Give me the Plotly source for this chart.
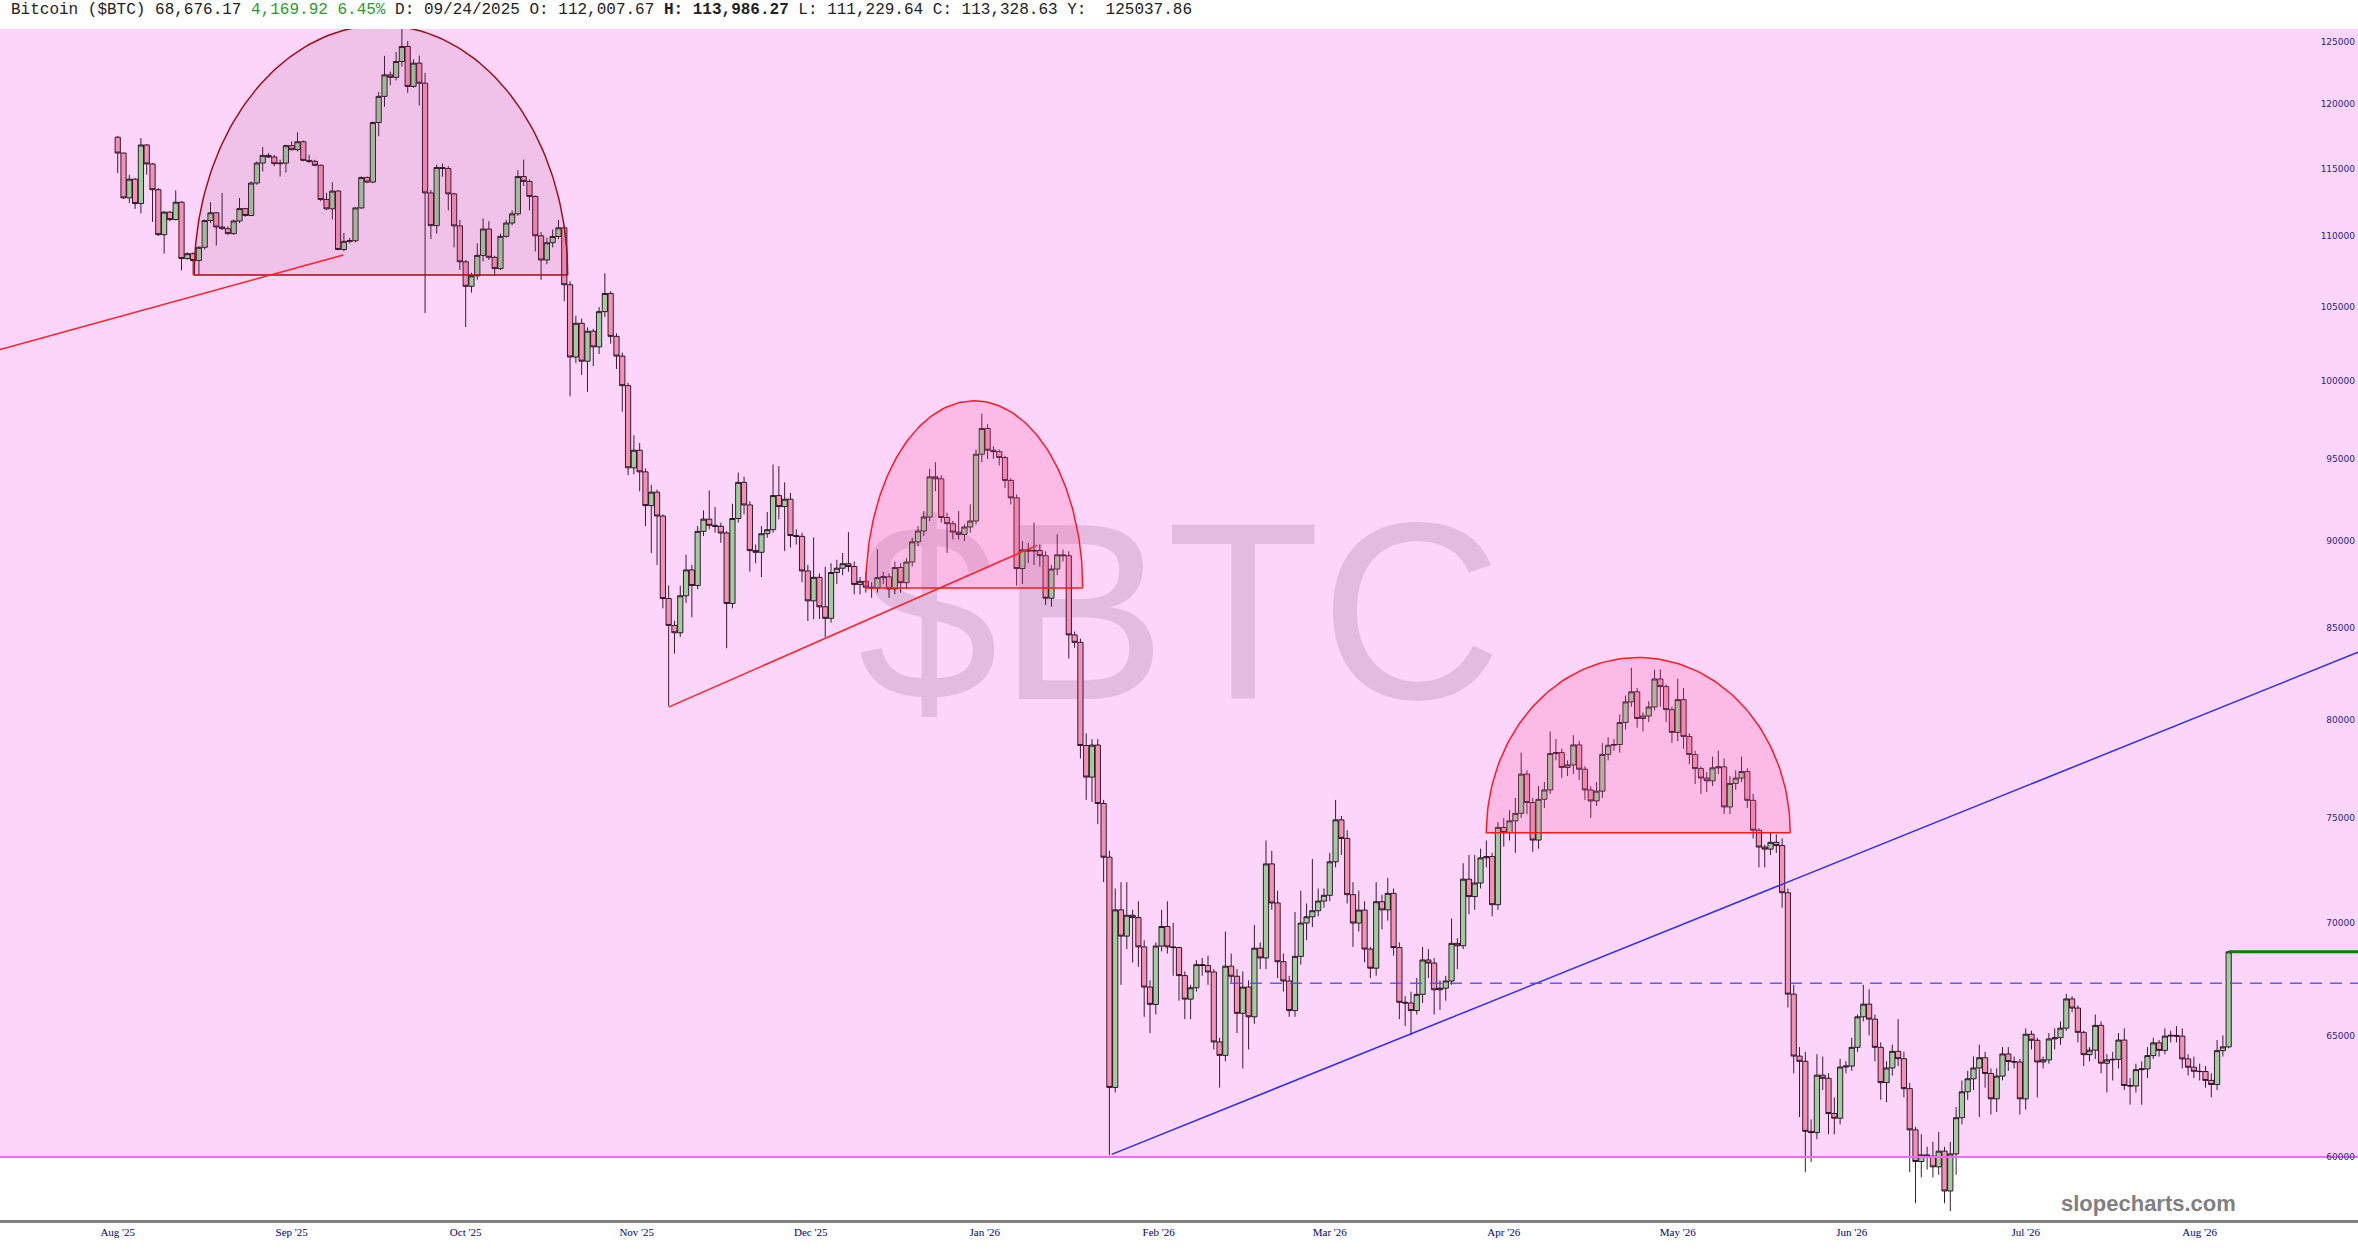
import math
import plotly.graph_objects as go

# ---------------- data (prices in thousands of USD) ----------------
opens = [117.42,116.20,112.82,114.22,112.40,116.82,115.37,113.43,110.12,111.77,111.22,112.50,108.40,108.75,108.26,109.21,111.15,111.72,110.68,110.56,
110.20,111.12,112.03,111.52,113.93,115.44,116.02,115.90,115.39,115.43,116.77,116.46,117.07,115.64,115.57,115.27,112.70,112.01,113.33,109.05,
109.64,109.68,112.08,114.35,114.00,118.56,120.62,122.34,122.14,123.42,124.65,121.41,123.29,121.67,113.19,110.78,115.10,115.02,113.12,110.76,
108.17,106.44,107.18,108.63,110.53,108.49,107.69,110.00,110.97,111.64,114.42,114.05,112.93,110.04,108.30,109.54,109.99,110.62,106.55,101.60,
103.88,101.32,103.34,102.28,104.68,105.94,102.99,101.66,99.70,94.45,95.55,94.20,92.13,92.95,91.50,86.66,85.14,84.73,86.82,88.31,
87.41,90.58,91.31,90.94,90.88,90.48,86.38,91.35,93.55,92.17,89.44,89.34,90.44,90.68,92.74,92.07,92.52,90.33,90.28,88.25,
86.53,87.88,86.19,85.54,88.16,88.41,88.67,88.51,87.47,87.65,87.31,87.27,87.86,87.91,87.21,88.45,87.57,88.77,89.96,90.60,
91.44,93.89,93.77,91.41,91.04,90.54,90.40,90.84,91.20,95.30,96.93,95.55,95.46,95.09,93.67,92.60,88.39,89.48,89.42,89.44,
89.14,86.68,88.36,89.19,89.14,84.61,84.20,78.67,77.05,78.69,75.72,73.09,62.81,70.60,69.39,70.35,70.24,68.90,67.10,66.34,
68.94,69.83,68.90,68.87,67.61,66.57,67.07,68.10,68.06,67.77,64.72,64.15,68.03,67.58,65.95,67.10,65.80,68.84,68.40,72.77,
70.92,68.23,67.37,66.07,68.47,69.99,70.28,70.56,71.01,71.28,72.87,74.91,74.00,71.31,69.99,70.59,68.80,67.94,70.98,70.60,
71.37,68.87,66.43,66.40,66.07,66.78,68.31,68.17,66.98,67.05,67.37,69.06,68.95,72.04,71.22,71.86,73.06,73.12,70.84,74.54,
74.29,74.86,75.23,77.20,75.77,73.92,75.93,76.40,78.25,78.30,77.54,77.67,78.70,77.45,76.40,75.85,76.34,78.21,78.68,78.72,
79.87,80.96,81.50,80.08,80.21,80.69,82.19,81.78,80.55,79.35,81.08,79.14,78.20,77.48,77.00,76.86,77.52,77.57,75.55,76.73,
77.00,77.33,75.88,74.40,73.58,73.48,73.81,73.65,71.40,66.79,64.12,63.90,61.02,60.97,63.32,63.19,61.74,61.55,63.66,63.70,
64.49,65.80,66.35,65.70,64.49,63.01,63.62,64.32,64.01,62.76,61.08,59.82,60.08,60.03,59.61,60.23,58.67,60.12,61.57,62.63,
63.17,63.62,64.05,63.39,62.34,63.28,64.21,63.89,63.87,62.34,65.05,64.79,63.87,63.96,64.85,64.90,65.31,66.58,66.18,65.13,
64.18,64.37,65.43,63.82,63.96,63.98,64.80,62.89,62.87,63.55,63.58,64.14,64.68,64.36,64.97,65.00,64.97,64.00,63.65,63.48,
63.47,63.10,62.93,64.35,64.51]
highs = [117.52,116.23,114.55,114.30,117.35,116.89,115.44,113.55,111.84,111.84,113.38,112.57,108.85,108.85,109.28,111.22,112.50,111.77,113.19,110.73,
111.22,112.82,112.08,114.05,115.57,116.66,116.20,116.07,115.69,116.84,117.09,117.79,117.17,116.07,115.69,115.32,113.19,113.99,113.38,110.24,
109.88,112.10,114.42,114.42,118.65,120.97,123.88,122.60,124.20,126.09,125.10,123.60,123.90,122.50,113.40,115.30,115.40,115.20,113.20,111.20,
108.30,107.40,109.50,111.30,111.10,108.60,110.20,111.20,111.90,114.90,115.70,114.20,113.00,110.30,109.90,110.50,111.20,110.80,106.80,104.40,
104.20,103.60,103.50,105.00,107.36,106.10,103.20,101.90,99.90,96.50,96.00,94.40,93.40,93.10,91.60,87.41,85.40,87.40,89.20,88.60,
90.90,91.84,93.05,92.04,91.10,90.60,92.24,94.16,93.90,92.40,89.80,90.90,91.74,94.66,94.56,93.55,92.90,90.70,90.50,88.60,
90.22,88.10,88.50,88.70,88.90,89.30,90.53,88.80,87.90,88.20,87.60,89.52,88.20,88.10,88.80,88.70,89.00,90.20,90.90,91.80,
94.40,94.80,94.00,91.70,91.20,91.80,91.00,92.20,95.60,97.87,97.20,95.80,95.60,95.20,93.80,92.80,90.00,89.90,91.10,89.80,
89.40,88.60,90.40,89.50,89.40,84.80,84.40,79.30,79.00,79.00,75.90,73.40,71.60,71.90,71.90,70.60,71.00,69.20,67.40,69.10,
70.60,71.00,70.00,68.90,67.80,67.20,68.30,68.40,68.50,67.90,64.90,69.60,68.60,67.90,67.80,67.40,69.90,69.10,73.90,73.40,
71.50,68.60,67.60,70.50,71.50,70.90,73.00,71.60,71.60,73.30,75.90,75.10,74.40,71.90,71.50,71.00,68.90,71.90,71.30,72.10,
71.60,69.10,66.70,66.90,67.50,68.90,68.80,68.40,67.40,67.60,70.20,69.30,72.80,73.20,73.20,73.50,73.90,73.30,74.80,75.00,
75.40,76.00,78.30,77.40,76.00,76.60,76.80,79.40,79.00,78.50,77.90,79.20,78.90,77.60,76.60,76.80,78.80,79.10,79.00,80.30,
81.30,82.80,81.70,80.40,81.00,82.70,82.70,81.90,80.70,82.20,81.70,79.30,78.40,77.60,77.30,78.10,78.40,78.00,77.10,77.40,
78.10,77.50,76.20,74.50,73.70,74.30,74.20,74.00,71.60,67.20,64.50,64.30,61.50,64.20,64.10,63.40,62.40,64.00,63.90,64.90,
65.90,67.20,67.00,65.90,64.70,63.90,64.60,65.70,64.30,63.00,61.20,60.90,60.40,60.60,61.00,60.40,60.60,62.00,63.10,63.50,
64.10,64.60,64.30,63.60,63.60,64.50,64.50,64.10,64.00,65.30,65.20,64.90,64.10,65.10,65.30,65.60,66.80,66.70,66.30,65.20,
64.50,65.90,65.60,64.20,64.30,65.10,65.30,63.20,63.80,63.90,64.50,64.90,64.80,65.30,65.20,65.40,65.30,64.20,64.10,63.80,
63.70,63.40,64.80,65.00,68.70]
lows = [114.67,112.75,112.45,112.01,111.67,114.55,111.05,110.04,108.75,111.10,111.17,107.56,108.33,107.25,107.25,109.05,110.97,109.33,110.48,110.11,
110.11,110.97,111.43,111.47,113.79,114.80,115.83,115.19,114.42,114.72,116.40,116.33,115.57,115.44,115.19,112.57,111.91,111.23,109.00,108.92,
109.48,109.58,112.00,113.92,113.92,117.50,119.80,121.50,121.90,123.00,120.90,121.30,119.90,104.59,109.80,110.20,114.40,111.90,109.20,107.60,
103.62,106.00,106.90,108.20,108.30,107.20,107.60,109.90,110.80,111.50,113.70,111.90,108.90,106.90,108.00,109.20,109.80,105.40,99.00,101.20,
100.40,99.30,101.00,101.80,104.30,102.50,100.80,98.00,94.00,94.05,93.00,90.90,89.30,88.60,86.10,80.75,83.57,84.50,86.40,85.60,
87.20,90.30,90.70,90.50,89.90,83.87,86.10,91.10,91.60,88.21,88.70,87.90,90.20,90.50,91.30,89.42,89.62,89.80,87.60,85.39,
85.49,85.50,84.48,85.30,87.50,88.00,88.20,86.90,86.90,87.00,86.70,87.00,87.50,86.70,86.90,87.00,87.20,88.50,89.70,90.30,
91.20,93.00,91.10,89.30,90.10,90.10,90.00,90.50,91.00,94.80,95.00,95.00,94.60,93.20,92.20,87.40,87.50,88.70,88.60,88.50,
86.30,86.20,88.00,88.80,83.30,83.90,78.00,75.90,75.80,74.70,71.90,60.07,62.60,67.20,68.80,68.20,68.00,65.80,65.10,65.90,
68.70,68.60,67.60,66.50,65.70,65.70,66.90,67.60,67.20,64.40,62.80,63.90,67.30,65.10,63.60,64.40,65.50,67.90,67.90,70.60,
67.50,66.90,65.80,65.80,68.10,69.20,69.80,70.30,70.70,71.00,72.60,73.20,70.90,68.90,69.60,68.20,67.50,67.60,69.70,70.10,
68.50,65.70,65.40,65.00,65.90,66.40,67.50,65.90,66.10,66.50,67.20,67.90,68.80,70.40,70.60,71.60,72.60,70.30,70.60,73.60,
73.90,73.30,75.00,75.20,73.35,73.50,75.50,76.20,77.90,77.00,77.10,77.20,76.90,75.90,75.00,75.60,76.00,77.90,78.40,78.30,
79.50,80.70,79.60,79.40,79.90,80.50,80.70,79.90,78.80,78.90,78.50,77.70,76.70,76.20,76.30,76.60,77.20,75.20,75.20,76.40,
76.80,75.50,74.00,72.60,72.60,73.20,73.30,70.70,66.20,63.40,61.60,59.40,59.80,60.70,62.70,60.90,60.90,61.30,63.40,63.50,
64.30,65.60,65.00,63.90,62.30,62.20,63.30,63.70,62.40,59.40,58.20,59.20,59.50,59.20,59.30,58.20,57.90,59.30,61.30,62.30,
62.70,61.60,62.80,61.70,61.80,63.10,63.50,63.60,61.70,61.90,64.40,62.40,63.60,63.80,64.40,64.60,65.20,66.00,64.70,63.70,
63.90,64.00,63.40,62.60,63.10,63.60,62.70,62.10,62.60,62.10,63.20,64.00,64.10,64.20,64.70,64.70,63.60,63.30,63.20,63.10,
62.80,62.40,62.70,64.10,64.45]
closes = [116.20,112.82,114.22,112.40,116.82,115.37,113.43,110.12,111.77,111.22,112.50,108.40,108.75,108.26,109.21,111.15,111.72,110.68,110.56,110.20,
111.12,112.03,111.52,113.93,115.44,116.02,115.90,115.39,115.43,116.77,116.46,117.07,115.64,115.57,115.27,112.70,112.01,113.33,109.05,109.64,
109.68,112.08,114.35,114.00,118.56,120.62,122.34,122.14,123.42,124.65,121.41,123.29,121.67,113.19,110.78,115.10,115.02,113.12,110.76,108.17,
106.44,107.18,108.63,110.53,108.49,107.69,110.00,110.97,111.64,114.42,114.05,112.93,110.04,108.30,109.54,109.99,110.62,106.55,101.60,103.88,
101.32,103.34,102.28,104.68,105.94,102.99,101.66,99.70,94.45,95.55,94.20,92.13,92.95,91.50,86.66,85.14,84.73,86.82,88.31,87.41,
90.58,91.31,90.94,90.88,90.48,86.38,91.35,93.55,92.17,89.44,89.34,90.44,90.68,92.74,92.07,92.52,90.33,90.28,88.25,86.53,
87.88,86.19,85.54,88.16,88.41,88.67,88.51,87.47,87.65,87.31,87.27,87.86,87.91,87.21,88.45,87.57,88.77,89.96,90.60,91.44,
93.89,93.77,91.41,91.04,90.54,90.40,90.84,91.20,95.30,96.93,95.55,95.46,95.09,93.67,92.60,88.39,89.48,89.42,89.44,89.14,
86.68,88.36,89.19,89.14,84.61,84.20,78.67,77.05,78.69,75.72,73.09,62.81,70.60,69.39,70.35,70.24,68.90,67.10,66.34,68.94,
69.83,68.90,68.87,67.61,66.57,67.07,68.10,68.06,67.77,64.72,64.15,68.03,67.58,65.95,67.10,65.80,68.84,68.40,72.77,70.92,
68.23,67.37,66.07,68.47,69.99,70.28,70.56,71.01,71.28,72.87,74.91,74.00,71.31,69.99,70.59,68.80,67.94,70.98,70.60,71.37,
68.87,66.43,66.40,66.07,66.78,68.31,68.17,66.98,67.05,67.37,69.06,68.95,72.04,71.22,71.86,73.06,73.12,70.84,74.54,74.29,
74.86,75.23,77.20,75.77,73.92,75.93,76.40,78.25,78.30,77.54,77.67,78.70,77.45,76.40,75.85,76.34,78.21,78.68,78.72,79.87,
80.96,81.50,80.08,80.21,80.69,82.19,81.78,80.55,79.35,81.08,79.14,78.20,77.48,77.00,76.86,77.52,77.57,75.55,76.73,77.00,
77.33,75.88,74.40,73.58,73.48,73.81,73.65,71.40,66.79,64.12,63.90,61.02,60.97,63.32,63.19,61.74,61.55,63.66,63.70,64.49,
65.80,66.35,65.70,64.49,63.01,63.62,64.32,64.01,62.76,61.08,59.82,60.08,60.03,59.61,60.23,58.67,60.12,61.57,62.63,63.17,
63.62,64.05,63.39,62.34,63.28,64.21,63.89,63.87,62.34,65.05,64.79,63.87,63.96,64.85,64.90,65.31,66.58,66.18,65.13,64.18,
64.37,65.43,63.82,63.96,63.98,64.80,62.89,62.87,63.55,63.58,64.14,64.68,64.36,64.97,65.00,64.97,64.00,63.65,63.48,63.47,
63.10,62.93,64.35,64.51,68.676]

month_labels = ["Aug '25", "Sep '25", "Oct '25", "Nov '25", "Dec '25", "Jan '26", "Feb '26",
                "Mar '26", "Apr '26", "May '26", "Jun '26", "Jul '26", "Aug '26"]
month_pos = [0, 30, 60, 89.5, 119.5, 149.5, 179.5, 209, 239, 269, 299, 329, 359]
price_ticks = [60000, 65000, 70000, 75000, 80000, 85000, 90000, 95000, 100000,
               105000, 110000, 115000, 120000, 125000]

# drawn annotations (candle index, price in thousands)
domes = [  # center, half-width, base price, top price, line colour, fill colour
    (45.4, 32.2, 107.24, 126.4, "#a01010", "rgba(170,60,120,0.13)"),
    (147.7, 18.7, 87.27, 98.71, "#ff1a1a", "rgba(255,90,160,0.22)"),
    (262.2, 26.2, 74.28, 83.36, "#ff1a1a", "rgba(255,90,160,0.22)"),
]
red_lines = [((-20.3, 102.1), (38.9, 108.66)), ((95.0, 80.68), (158.5, 89.75))]
blue_line = ((171.4, 60.1), (386.3, 83.65))
dashed_level = (191.8, 67.27)
support_level = 60.0
last_price = 68.67617
watermark = ("$BTC", 183.2, 87.3)

X_MIN, X_MAX = -20.3, 386.3
Y_MIN, Y_MAX = 57.56, 126.09

idx = list(range(len(closes)))
k = 1000.0
fig = go.Figure()

# candles
fig.add_trace(go.Candlestick(
    x=idx, open=[v * k for v in opens], high=[v * k for v in highs],
    low=[v * k for v in lows], close=[v * k for v in closes],
    increasing=dict(fillcolor="#9ccf9a", line=dict(color="rgba(35,5,30,0.9)", width=1)),
    decreasing=dict(fillcolor="#f592b4", line=dict(color="rgba(35,5,30,0.9)", width=1)),
    whiskerwidth=0, hoverinfo="skip"))

# domes (drawn over the candles, translucent)
for c, hw, b, t, lc, fc in domes:
    n = 120
    xs, ys = [], []
    lb, lt = math.log10(b * k), math.log10(t * k)
    for j in range(n + 1):
        th = math.pi * j / n
        xs.append(c + hw * math.cos(th))
        ys.append(10 ** (lb + (lt - lb) * math.sin(th)))
    xs.append(xs[0]); ys.append(ys[0])
    fig.add_trace(go.Scatter(x=xs, y=ys, mode="lines", fill="toself", fillcolor=fc,
                             line=dict(color=lc, width=1.5), hoverinfo="skip"))

# trend lines
for (p0, p1) in red_lines:
    fig.add_trace(go.Scatter(x=[p0[0], p1[0]], y=[p0[1] * k, p1[1] * k], mode="lines",
                             line=dict(color="#ff2020", width=1.5), hoverinfo="skip"))
fig.add_trace(go.Scatter(x=[blue_line[0][0], blue_line[1][0]],
                         y=[blue_line[0][1] * k, blue_line[1][1] * k], mode="lines",
                         line=dict(color="#2a2aff", width=1.5), hoverinfo="skip"))
fig.add_trace(go.Scatter(x=[dashed_level[0], X_MAX + 2], y=[dashed_level[1] * k] * 2, mode="lines",
                         line=dict(color="rgba(70,70,255,0.85)", width=1.5, dash="12px,8px"),
                         hoverinfo="skip"))
fig.add_trace(go.Scatter(x=[X_MIN - 2, X_MAX + 2], y=[support_level * k] * 2, mode="lines",
                         line=dict(color="#ff66ff", width=2), hoverinfo="skip"))
fig.add_trace(go.Scatter(x=[idx[-1], X_MAX + 2], y=[last_price * k] * 2, mode="lines",
                         line=dict(color="#008000", width=3), hoverinfo="skip"))

# pink zone above the support level (below the candles)
fig.add_shape(type="rect", xref="x", yref="y", x0=X_MIN - 5, x1=X_MAX + 5,
              y0=support_level * k, y1=Y_MAX * k * 1.2, fillcolor="#fcd6fa",
              line=dict(width=0), layer="below")
# watermark (below the candles, above the zone)
fig.add_shape(type="rect", xref="x", yref="y", x0=watermark[1] - 60, x1=watermark[1] + 60,
              y0=watermark[2] * k * 0.93, y1=watermark[2] * k / 0.93,
              line=dict(width=0), fillcolor="rgba(0,0,0,0)", layer="below",
              label=dict(text=watermark[0], textposition="middle center",
                         font=dict(size=252, family="Liberation Sans", color="rgba(190,150,190,0.42)")))

header = ("Bitcoin ($BTC) 68,676.17 <span style='color:#2e9a2e'>4,169.92 6.45%</span> "
          "D: 09/24/2025 O: 112,007.67 <b>H: 113,986.27</b> L: 111,229.64 C: 113,328.63 Y:  125037.86")
fig.add_annotation(xref="paper", yref="paper", x=0.004, y=1, xanchor="left", yanchor="middle",
                   yshift=19, text=header, showarrow=False,
                   font=dict(family="Liberation Mono", size=16, color="#222222"))
fig.add_annotation(xref="paper", yref="paper", x=(2148) / 2358, y=(1220 - 1203) / 1191,
                   xanchor="center", yanchor="middle", text="<b>slopecharts.com</b>", showarrow=False,
                   font=dict(family="Liberation Sans", size=22, color="#808080"))

fig.update_layout(
    width=2358, height=1260, margin=dict(l=0, r=0, t=29, b=40),
    paper_bgcolor="white", plot_bgcolor="white", showlegend=False, hovermode=False,
    boxgap=0.1, boxgroupgap=0,
    xaxis=dict(range=[X_MIN, X_MAX], tickvals=month_pos, ticktext=month_labels,
               showgrid=False, zeroline=False, showline=True, linecolor="#808080", linewidth=3,
               ticks="", tickfont=dict(family="Liberation Serif", size=11, color="#00007a"),
               rangeslider=dict(visible=False), fixedrange=True),
    yaxis=dict(type="log", range=[math.log10(Y_MIN * k), math.log10(Y_MAX * k)],
               tickvals=price_ticks, ticktext=[str(v) for v in price_ticks],
               side="right", ticklabelposition="inside", ticks="", showgrid=False, zeroline=False,
               tickfont=dict(family="DejaVu Sans", size=9, color="#24248a"), fixedrange=True),
)

fig.write_html("out.html", config={"displayModeBar": False},
               post_script="document.body.style.margin='0';")
